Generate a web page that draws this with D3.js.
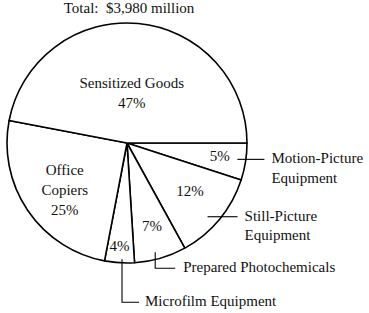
<!DOCTYPE html>
<html>
<head>
<meta charset="utf-8">
<script src="https://cdn.jsdelivr.net/npm/d3@7"></script>
<style>
  html, body { margin: 0; padding: 0; background: #fff; }
  svg text { font-family: "Liberation Serif", "Times New Roman", serif; font-size: 15px; fill: #111; }
</style>
</head>
<body>
<script>
// data
const title = "Total:\u00a0 $3,980 million";
const categories = ["Motion-Picture Equipment", "Still-Picture Equipment", "Prepared Photochemicals",
                    "Microfilm Equipment", "Office Copiers", "Sensitized Goods"];
const values = [5, 12, 7, 4, 25, 47];
const innerLines = [["5%"], ["12%"], ["7%"], ["4%"], ["Office", "Copiers", "25%"], ["Sensitized Goods", "47%"]];
const calloutLines = [["Motion-Picture", "Equipment"], ["Still-Picture", "Equipment"], ["Prepared Photochemicals"], ["Microfilm Equipment"], null, null];

const width = 369, height = 313;
const cx = 127, cy = 143, r = 120;

const svg = d3.select("body").append("svg")
  .attr("width", width).attr("height", height);

svg.append("text")
  .attr("x", 129).attr("y", 13)
  .attr("text-anchor", "middle")
  .text(title);

const g = svg.append("g").attr("transform", "translate(" + cx + "," + cy + ")");

const pie = d3.pie().sort(null)
  .startAngle(Math.PI / 2).endAngle(Math.PI / 2 + 2 * Math.PI);
const arcs = pie(values);
const arc = d3.arc().innerRadius(0).outerRadius(r);

g.selectAll("path.slice")
  .data(arcs)
  .enter().append("path")
  .attr("class", "slice")
  .attr("d", arc)
  .attr("fill", "#fff")
  .attr("stroke", "#000")
  .attr("stroke-width", 1.6)
  .attr("stroke-linejoin", "round");

// polar helper, angle in d3 pie convention (0 = up, clockwise)
function polar(a, rad) { return [Math.sin(a) * rad, -Math.cos(a) * rad]; }
function mid(d) { return (d.startAngle + d.endAngle) / 2; }

// label layout: radius fraction + angle offset for the inside labels
const labelR = [0.78, 0.66, 0.72, 0.86, 0.65, 0.42];
const labelShift = [-0.02, -0.04, -0.01, 0.01, -0.05, 0];

arcs.forEach(function(d, i) {
  const p = polar(mid(d) + labelShift[i], labelR[i] * r);
  const lines = innerLines[i];
  const lh = 20;
  const t = g.append("text")
    .attr("text-anchor", "middle")
    .attr("transform", "translate(" + p[0] + "," + p[1] + ")");
  lines.forEach(function(s, k) {
    t.append("tspan")
      .attr("x", 0)
      .attr("y", (k - (lines.length - 1) / 2) * lh + 5)
      .text(s);
  });
});

// callouts: leader start (radius fraction, angle shift), then path shape
const leader = [
  {rf: 0.93, da: -0.01, type: "h", len: 27, tx: 7},
  {rf: 0.91, da: 0.05, type: "h", len: 30, tx: 7},
  {rf: 0.94, da: 0.03, type: "L", drop: 16, len: 20, tx: 8},
  {rf: 0.97, da: -0.02, type: "L", drop: 43, len: 17, tx: 6}
];

leader.forEach(function(l, i) {
  const d = arcs[i];
  const p = polar(mid(d) + l.da, l.rf * r);
  const lines = calloutLines[i];
  let pts, tx, ty;
  if (l.type === "h") {
    pts = [p, [p[0] + l.len, p[1]]];
    tx = p[0] + l.len + l.tx;
    ty = p[1] + 4;
  } else {
    pts = [p, [p[0], p[1] + l.drop], [p[0] + l.len, p[1] + l.drop]];
    tx = p[0] + l.len + l.tx;
    ty = p[1] + l.drop + 4;
  }
  g.append("path")
    .attr("d", d3.line()(pts))
    .attr("fill", "none")
    .attr("stroke", "#000")
    .attr("stroke-width", 1.1);
  const t = g.append("text").attr("x", tx).attr("y", ty);
  lines.forEach(function(s, k) {
    t.append("tspan").attr("x", tx).attr("dy", k === 0 ? 0 : 19.5).text(s);
  });
});
</script>
</body>
</html>
